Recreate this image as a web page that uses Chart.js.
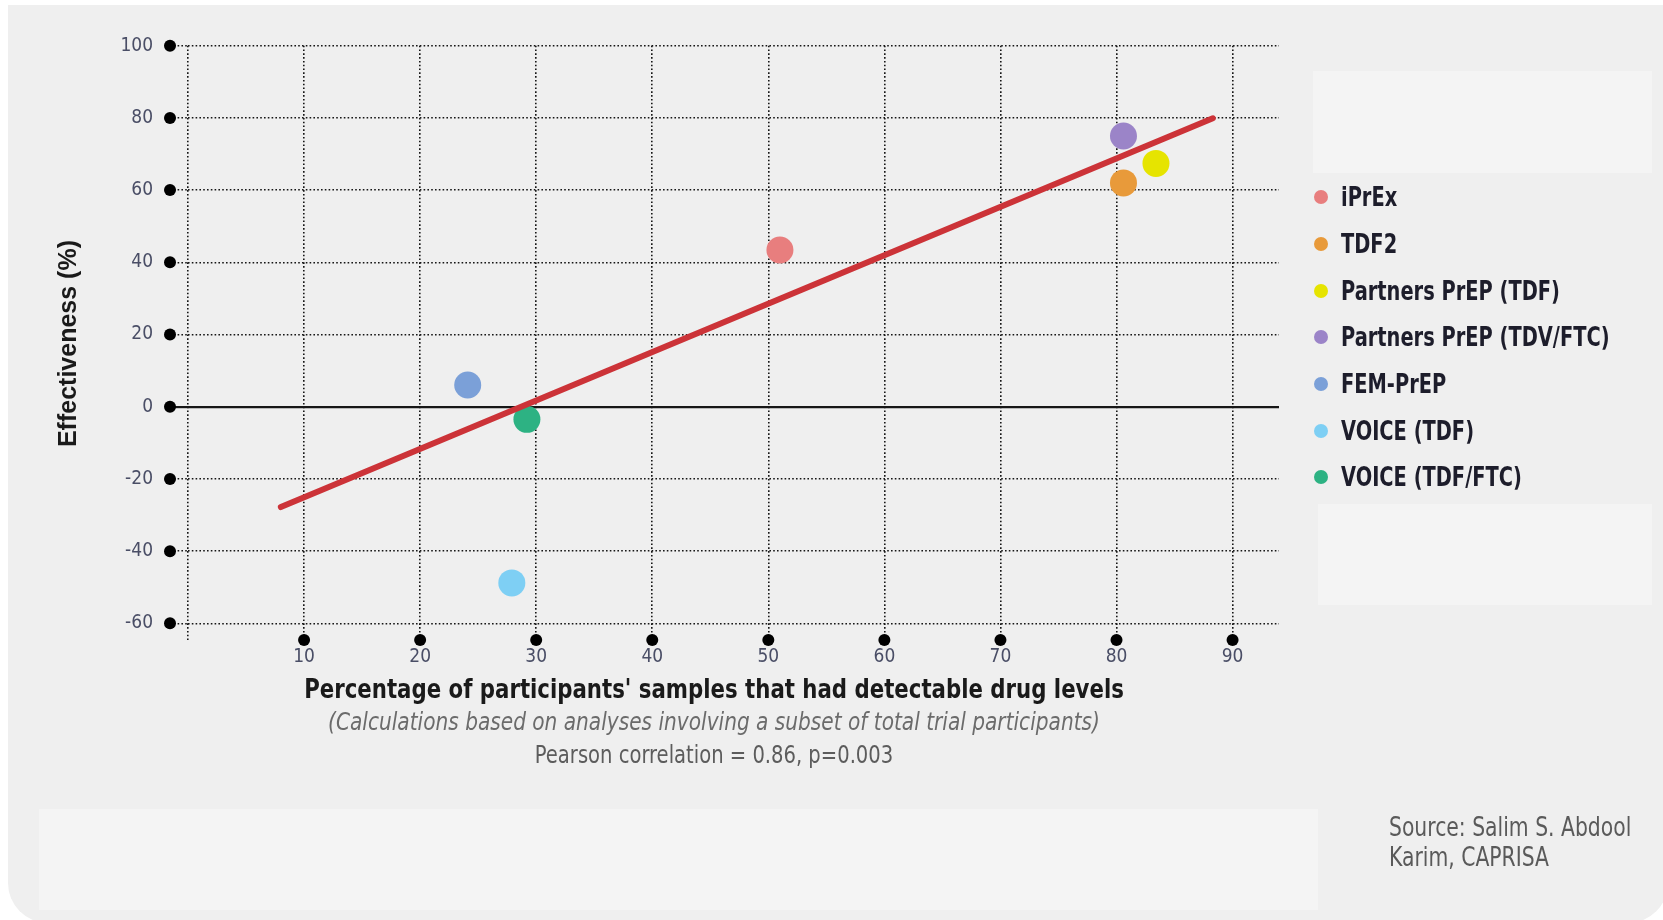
<!DOCTYPE html>
<html>
<head>
<meta charset="utf-8">
<script src="https://cdn.jsdelivr.net/npm/chart.js@4.4.1/dist/chart.umd.min.js"></script>
<style>
  html, body { margin: 0; padding: 0; background: #ffffff; }
  body { width: 1663px; height: 920px; position: relative; overflow: hidden; }
  .panel { position: absolute; left: 8px; top: 5px; width: 1660px; height: 918px; background: #efefef; border-radius: 0 0 40px 40px; }
  .box { position: absolute; background: #f4f4f4; }
  #chart { position: absolute; left: 0; top: 0; }
  .narrow { font-family: "Liberation Sans Narrow", "DejaVu Sans Condensed", "Liberation Sans", sans-serif; }
  #legend { position: absolute; left: 0; top: 0; }
  .item { position: absolute; left: 1314px; height: 30px; display: flex; align-items: center; white-space: nowrap; }
  .item .dot { width: 14px; height: 14px; border-radius: 50%; margin-right: 13px; flex: none; }
  .item span { font-weight: bold; font-size: 26px; color: #1d1d2b; display: inline-block; transform: scaleX(0.83); transform-origin: 0 50%; }
  .cap { position: absolute; white-space: nowrap; }
  .src { position: absolute; left: 1389px; white-space: nowrap; font-size: 26px; color: #5a5a5a; line-height: 30px; transform: scaleX(0.87); transform-origin: 0 0; }
</style>
</head>
<body>
<div class="panel"></div>
<div class="box" style="left:1313px; top:71px; width:339px; height:102px;"></div>
<div class="box" style="left:39px; top:809px; width:1279px; height:101px;"></div>
<canvas id="chart" width="1663" height="920"></canvas>
<div id="legend" class="narrow"></div>
<div class="box" style="left:1318px; top:504px; width:334px; height:101px;"></div>
<div class="cap narrow" style="left:714px; top:689px; font-size:26px; font-weight:bold; color:#1a1a1a; transform:translate(-50%,-50%) scaleX(0.91);">Percentage of participants' samples that had detectable drug levels</div>
<div class="cap narrow" style="left:714px; top:721px; font-size:25px; font-style:italic; color:#6b6b6b; transform:translate(-50%,-50%) scaleX(0.895);">(Calculations based on analyses involving a subset of total trial participants)</div>
<div class="cap narrow" style="left:714px; top:754px; font-size:25px; color:#5c5c5c; transform:translate(-50%,-50%) scaleX(0.87);">Pearson correlation = 0.86, p=0.003</div>
<div class="src narrow" style="top:812px;">Source: Salim S. Abdool<br>Karim, CAPRISA</div>
<script>
const trials = ['iPrEx', 'TDF2', 'Partners PrEP (TDF)', 'Partners PrEP (TDV/FTC)', 'FEM-PrEP', 'VOICE (TDF)', 'VOICE (TDF/FTC)'];
const adherence = [51.0, 80.6, 83.4, 80.6, 24.1, 27.9, 29.2];
const effectiveness = [43.4, 62.0, 67.4, 75.0, 6.0, -48.8, -3.5];
const trialColors = ['#e87e7e', '#e89a3a', '#e6e400', '#9b84c8', '#7ba0d8', '#7ecff4', '#2db283'];
const fitX = [8.0, 88.3];
const fitY = [-27.8, 79.9];
const xTicks = [10, 20, 30, 40, 50, 60, 70, 80, 90];
const yTicks = [100, 80, 60, 40, 20, 0, -20, -40, -60];
const xRange = [0, 94];
const yRange = [-65, 100];

const NARROW = '"Liberation Sans Narrow", "DejaVu Sans Condensed", "Liberation Sans", sans-serif';
const DOT = [1.6, 2.2];
const GRID = '#161616';

const datasets = trials.map((name, i) => ({
  type: 'scatter',
  label: name,
  data: [{ x: adherence[i], y: effectiveness[i] }],
  backgroundColor: trialColors[i],
  borderColor: trialColors[i],
  borderWidth: 0,
  pointRadius: 13.5,
  pointHoverRadius: 13.5,
  order: 1
}));
datasets.push({
  type: 'line',
  label: 'fit',
  data: fitX.map((x, i) => ({ x: x, y: fitY[i] })),
  borderColor: '#cc3338',
  borderWidth: 6,
  borderCapStyle: 'round',
  pointRadius: 0,
  fill: false,
  order: 0
});

const tickDots = {
  id: 'tickDots',
  afterDraw(chart) {
    const { ctx, scales: { x, y }, chartArea } = chart;
    ctx.save();
    ctx.fillStyle = '#000';
    yTicks.forEach(v => {
      ctx.beginPath();
      ctx.arc(chartArea.left - 18, y.getPixelForValue(v), 6, 0, Math.PI * 2);
      ctx.fill();
    });
    xTicks.forEach(v => {
      ctx.beginPath();
      ctx.arc(x.getPixelForValue(v), chartArea.bottom - 1.5, 6, 0, Math.PI * 2);
      ctx.fill();
    });
    ctx.restore();
  }
};

new Chart(document.getElementById('chart'), {
  data: { datasets },
  options: {
    responsive: false,
    animation: false,
    events: [],
    layout: { padding: { left: 0, top: 45.7, right: 384, bottom: 0 } },
    plugins: { legend: { display: false }, tooltip: { enabled: false } },
    scales: {
      x: {
        type: 'linear',
        min: xRange[0],
        max: xRange[1],
        afterBuildTicks: axis => { axis.ticks = [xRange[0]].concat(xTicks).map(v => ({ value: v })); },
        afterFit: s => { s.height = 920 - 641.4; },
        ticks: {
          font: { family: NARROW, size: 19 },
          color: '#4a4e66',
          padding: 4,
          maxRotation: 0,
          callback: v => (xTicks.includes(v) ? String(v) : '')
        },
        grid: { color: GRID, lineWidth: 1.6, drawTicks: false, tickLength: 0 },
        border: { display: false, dash: DOT }
      },
      y: {
        type: 'linear',
        min: yRange[0],
        max: yRange[1],
        afterBuildTicks: axis => { axis.ticks = yTicks.map(v => ({ value: v })); },
        afterFit: s => { s.width = 188; },
        ticks: { font: { family: NARROW, size: 19 }, color: '#4a4e66', padding: 17 },
        grid: {
          color: GRID,
          lineWidth: c => (c.tick && c.tick.value === 0 ? 2.2 : 1.6),
          tickLength: 18,
          tickColor: GRID,
          tickWidth: c => (c.tick && c.tick.value === 0 ? 2.2 : 1.6),
          tickBorderDash: c => (c.tick && c.tick.value === 0 ? [] : DOT)
        },
        border: {
          display: false,
          color: GRID,
          width: 1.6,
          dash: c => (c.tick && c.tick.value === 0 ? [] : DOT)
        },
        title: {
          display: true,
          text: 'Effectiveness (%)',
          font: { family: '"Liberation Sans", Arial, sans-serif', size: 25, weight: 'bold' },
          color: '#1a1a1a',
          padding: { top: 54, bottom: 0 }
        }
      }
    }
  },
  plugins: [tickDots]
});

const legend = document.getElementById('legend');
trials.forEach((name, i) => {
  const el = document.createElement('div');
  el.className = 'item';
  el.style.top = (197.3 + i * 46.65 - 15) + 'px';
  const d = document.createElement('div');
  d.className = 'dot';
  d.style.background = trialColors[i];
  const s = document.createElement('span');
  s.textContent = name;
  el.appendChild(d);
  el.appendChild(s);
  legend.appendChild(el);
});
</script>
</body>
</html>
